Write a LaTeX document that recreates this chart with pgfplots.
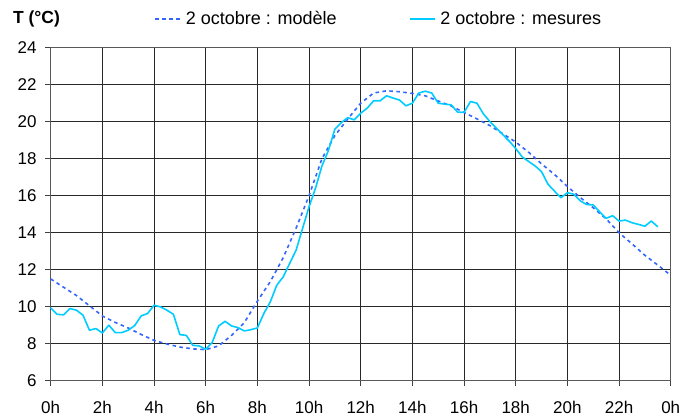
\documentclass[border=0pt]{standalone}
\usepackage{fontspec}
\setmainfont{Liberation Sans}
\usepackage{pgfplots}
\pgfplotsset{compat=1.18}
\definecolor{modelc}{RGB}{51,102,255}
\definecolor{measc}{RGB}{0,204,255}
\definecolor{gridc}{RGB}{40,40,40}
\pgfplotstableread{
h T
0 9.93
0.25 9.59
0.5 9.56
0.75 9.90
1.0 9.81
1.25 9.54
1.5 8.73
1.75 8.82
2.0 8.58
2.25 9.0
2.5 8.60
2.75 8.60
3.0 8.73
3.25 8.98
3.5 9.50
3.75 9.63
4.0 10.08
4.25 9.99
4.5 9.81
4.75 9.59
5.0 8.49
5.25 8.45
5.5 7.91
5.75 7.88
6.0 7.70
6.25 8.06
6.5 8.96
6.75 9.21
7.0 8.96
7.25 8.87
7.5 8.69
7.75 8.76
8.0 8.85
8.25 9.63
8.5 10.26
8.75 11.16
9.0 11.61
9.25 12.34
9.5 13.06
9.75 14.23
10.0 15.40
10.25 16.40
10.5 17.61
10.75 18.44
11.0 19.60
11.25 19.95
11.5 20.22
11.75 20.10
12.0 20.46
12.25 20.73
12.5 21.13
12.75 21.13
13.0 21.40
13.25 21.28
13.5 21.17
13.75 20.86
14.0 21.0
14.25 21.55
14.5 21.65
14.75 21.55
15.0 21.0
15.25 20.95
15.5 20.91
15.75 20.52
16.0 20.50
16.25 21.09
16.5 21.0
16.75 20.42
17.0 20.01
17.25 19.65
17.5 19.30
17.75 18.95
18.0 18.55
18.25 18.10
18.5 17.85
18.75 17.61
19.0 17.30
19.25 16.62
19.5 16.25
19.75 15.89
20.0 16.16
20.25 16.08
20.5 15.72
20.75 15.52
21.0 15.50
21.25 15.13
21.5 14.78
21.75 14.92
22.0 14.63
22.25 14.68
22.5 14.54
22.75 14.45
23.0 14.35
23.25 14.63
23.5 14.32
}\mesures
\pgfplotstableread{
h T
0 11.50
0.5 11.05
1 10.60
1.5 10.05
2 9.50
2.5 9.15
3 8.85
3.5 8.50
4 8.18
4.5 7.98
5 7.82
5.5 7.72
6 7.68
6.5 7.88
7 8.45
7.5 9.15
8 10.30
8.5 11.35
9 12.65
9.5 14.25
10 16.00
10.5 18.00
11 19.25
11.5 20.15
12 21.00
12.5 21.55
13 21.67
13.5 21.62
14 21.53
14.5 21.40
15 21.12
15.5 20.85
16 20.50
16.5 20.15
17 19.79
17.5 19.35
18 18.90
18.5 18.35
19 17.72
19.5 17.15
20 16.50
20.5 15.90
21 15.35
21.5 14.75
22 14.00
22.5 13.40
23 12.78
23.5 12.25
24 11.70
}\modele
\begin{document}
\fontsize{16.5}{19}\selectfont
\begin{tikzpicture}
\path[use as bounding box] (-50.7pt,-37.3pt) rectangle (631.3pt,380.7pt);
\begin{axis}[
  at={(0pt,0pt)}, anchor=south west,
  scale only axis, width=620pt, height=333pt,
  xmin=0, xmax=24, ymin=6, ymax=24,
  xtick={0,2,...,24},
  xticklabels={0h,2h,4h,6h,8h,10h,12h,14h,16h,18h,20h,22h,0h},
  ytick={6,8,...,24},
  grid=major,
  major grid style={gridc, line width=0.7pt},
  axis line style={black!65, line width=0.8pt},
  tick align=outside, xtick pos=bottom, ytick pos=left,
  major tick length=5.5pt,
  tick style={black!75, line width=0.7pt},
  /pgf/number format/assume math mode=true,
  ticklabel style={font=\fontsize{17}{19}\selectfont},
  xticklabel style={yshift=-9pt},
  yticklabel style={xshift=-3pt},
  legend columns=2,
  legend cell align=left,
  legend style={draw=none, fill=none, at={(0.162,1.087)}, anchor=west,
    font=\fontsize{18}{20}\selectfont,
    /tikz/every even column/.append style={column sep=70pt}},
  legend image code/.code={\draw[#1] (0pt,0pt) -- (25pt,0pt); \path (28pt,0pt);},
  clip=false,
]
\addplot[modelc, line width=1.6pt, dash pattern=on 3.5pt off 3.5pt] table[x=h,y=T] {\modele};
\addlegendentry{2 octobre : modèle}
\addplot[measc, line width=1.6pt, line join=round] table[x=h,y=T] {\mesures};
\addlegendentry{2 octobre : mesures}
\node[anchor=west, font=\fontsize{17.5}{19}\selectfont\bfseries, inner sep=0pt] at (axis description cs:-0.061,1.086) {T (°C)};
\end{axis}
\end{tikzpicture}
\end{document}
